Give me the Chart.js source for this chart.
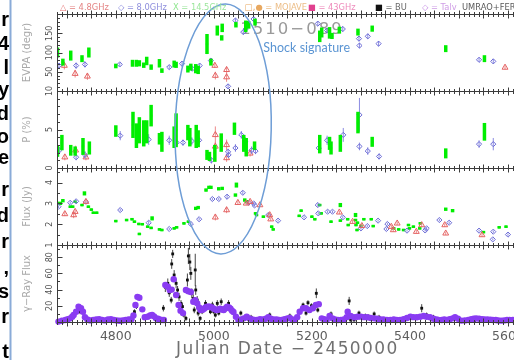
<!DOCTYPE html>
<html>
<head>
<meta charset="utf-8">
<script src="https://cdn.jsdelivr.net/npm/chart.js@4.4.1/dist/chart.umd.min.js"></script>
<style>
html, body { margin: 0; padding: 0; background: #fff; overflow: hidden; }
#wrap { position: relative; width: 514px; height: 360px; overflow: hidden; }
canvas { position: absolute; left: 0; top: 0; }
</style>
</head>
<body>
<div id="wrap"><canvas id="chart" width="562" height="360"></canvas></div>
<script>
// ---- data: [julian date - 2450000, value, error] ----
const xTickLabels = [4800, 5000, 5200, 5400, 5600];
const evpaTicks = [50, 100, 150];
const polTicks = [0, 5, 10];
const fluxTicks = [1, 2, 3, 4];
const gammaTicks = [20, 40, 60, 80];

const evpaGreen = [[4681,100,13],[4692,75,9],[4708,92,13],[4731,84,9],[4745,100,13],
  [4800,65,6],[4834,72,9],[4842,72,9],[4848,72,8],[4857,67,7],[4863,78,11],[4872,62,7],[4889,72,11],[4894,53,6],
  [4919,70,9],[4923,68,8],[4947,57,9],[4953,62,9],[4963,58,12],[4968,55,11],[4986,122,26],[4994,75,9],
  [5007,157,13],[5016,138,7],[5017,164,11],[5045,172,7],[5065,168,15],[5071,172,10],[5084,179,9],
  [5216,142,15],[5220,152,13],[5236,151,15],[5241,143,8],[5256,158,9],[5294,153,9],[5323,162,8],[5473,110,9],[5552,84,9]];
const evpaBlue = [[4684,66,5],[4719,66,8],[4737,69,8],[4808,69,4],[4909,62,5],[4935,71,5],[4956,58,5],[4971,66,6],
  [4994,79,6],[5029,12,6],[5044,183,6],[5060,153,6],[5065,161,6],[5081,187,6],[5212,175,6],[5231,157,6],[5263,161,7],
  [5296,136,7],[5297,118,7],[5314,142,7],[5336,123,7],[5541,81,6],[5570,77,6]];
const evpaRed = [[4695,66,10],[4717,45,10],[4742,38,9],[5002,66,6],[5003,40,10],[5026,55,8],[5026,36,12],[5594,61,5]];

const polGreen = [[4681,2.2,0.75],[4690,3.3,1.0],[4708,2.3,0.7],[4717,2.2,0.6],[4733,2.8,1.1],[4746,2.6,0.85],
  [4800,4.8,0.75],[4835,5.6,1.7],[4842,4.2,1.6],[4848,4.9,1.7],[4857,4.5,1.7],[4863,4.7,1.5],[4872,6.8,1.4],
  [4889,3.8,0.75],[4894,3.4,1.3],[4919,4.0,1.4],[4923,4.9,2.2],[4947,4.6,1.0],[4951,4.0,1.2],[4964,4.1,1.5],
  [4968,3.8,1.1],[4986,1.7,0.65],[4991,1.5,0.6],[5002,1.9,1.1],[5015,3.3,1.2],[5042,5.1,0.8],[5061,3.2,1.1],
  [5066,2.7,1.2],[5083,2.9,0.55],[5216,3.1,1.2],[5236,3.2,0.85],[5239,2.6,0.85],[5258,3.2,1.1],[5294,5.9,1.4],
  [5323,3.4,0.65],[5473,1.9,0.65],[5552,4.7,1.15]];
const polBlue = [[4685,2.3,0.4],[4719,1.4,0.4],[4737,1.7,0.5],[4809,4.2,0.6],[4867,3.7,0.7],[4909,3.6,0.6],
  [4924,3.3,0.5],[4937,3.3,0.4],[4955,3.5,0.5],[4970,3.6,0.5],[4995,1.0,0.4],[5029,2.1,0.4],[5030,1.7,0.4],
  [5044,2.6,0.5],[5056,4.3,0.5],[5064,3.4,0.6],[5077,2.3,0.5],[5085,2.2,0.4],[5214,2.6,0.5],[5231,3.6,0.6],
  [5264,4.3,0.9],[5297,6.9,2.2],[5297,2.8,0.5],[5314,2.2,0.5],[5337,1.5,0.4],[5541,3.1,0.5],[5570,3.1,0.8]];
const polRed = [[4696,1.4,0.4],[4718,2.3,0.6],[4739,1.4,0.4],[5003,2.8,0.6],[5003,4.3,1.1],[5026,3.0,0.7],[5026,1.3,0.5],[5074,1.9,0.4]];

const fluxGreen = [[4681,3.0,0.08],[4687,3.0,0.08],[4692,3.13,0.08],[4707,2.84,0.06],[4712,2.84,0.06],[4717,3.08,0.06],
  [4731,2.92,0.06],[4736,3.48,0.1],[4744,2.84,0.06],[4750,2.7,0.06],[4754,2.55,0.06],[4761,2.55,0.06],
  [4800,2.15,0.06],[4822,2.2,0.06],[4833,2.24,0.06],[4838,2.12,0.06],[4847,2.01,0.06],[4848,1.53,0.06],[4854,2.0,0.06],
  [4865,1.88,0.06],[4872,1.82,0.06],[4874,2.28,0.1],[4889,1.75,0.06],[4894,1.72,0.06],[4919,1.8,0.06],[4924,1.85,0.06],
  [4939,2.04,0.06],[4948,2.12,0.06],[4963,2.76,0.08],[4968,2.8,0.08],[4984,3.64,0.08],[4990,3.77,0.08],[4994,3.77,0.08],
  [5010,3.7,0.08],[5017,3.72,0.08],[5044,3.4,0.08],[5046,3.88,0.12],[5063,3.16,0.08],[5067,3.08,0.08],[5085,2.52,0.06],
  [5087,2.44,0.06],[5101,2.36,0.06],[5118,1.88,0.06],[5121,1.75,0.06],[5174,2.4,0.06],[5178,2.65,0.06],[5200,2.36,0.06],
  [5206,2.24,0.06],[5216,2.92,0.06],[5219,2.52,0.06],[5239,2.12,0.06],[5258,2.92,0.1],[5258,2.17,0.06],[5273,2.24,0.06],
  [5274,1.96,0.06],[5289,2.44,0.1],[5289,2.2,0.06],[5290,1.96,0.06],[5292,1.72,0.06],[5293,2.07,0.06],[5300,1.92,0.06],
  [5306,2.24,0.06],[5321,2.24,0.06],[5325,1.91,0.06],[5367,1.8,0.06],[5377,1.75,0.06],[5387,1.72,0.06],[5397,1.96,0.06],
  [5399,1.8,0.06],[5407,1.88,0.06],[5420,1.8,0.06],[5421,2.04,0.06],[5473,2.72,0.08],[5487,2.65,0.08],[5550,1.62,0.06],
  [5582,1.85,0.06],[5596,1.88,0.06]];
const fluxBlue = [[4683,2.84,0.06],[4707,3.03,0.06],[4719,3.1,0.06],[4739,3.08,0.06],[4809,2.68,0.06],[4867,2.07,0.08],
  [4909,1.77,0.05],[4953,2.01,0.06],[4970,2.24,0.06],[4997,3.21,0.06],[5010,3.21,0.06],[5027,3.32,0.12],[5059,3.51,0.08],
  [5071,3.03,0.06],[5081,3.0,0.06],[5083,2.9,0.06],[5111,2.44,0.06],[5131,2.17,0.05],[5184,2.33,0.05],[5212,2.92,0.08],
  [5213,2.52,0.06],[5232,2.6,0.06],[5242,2.6,0.06],[5263,2.33,0.06],[5300,1.8,0.06],[5313,1.91,0.06],[5335,2.17,0.05],
  [5352,1.77,0.06],[5354,2.01,0.06],[5394,1.69,0.05],[5431,1.7,0.05],[5434,1.8,0.06],[5460,2.2,0.06],[5480,2.07,0.06],
  [5541,1.69,0.05],[5569,1.27,0.05],[5570,1.64,0.06],[5600,1.5,0.06]];
const fluxRed = [[4696,2.49,0.1],[4714,2.44,0.15],[4717,2.6,0.1],[4739,3.08,0.1],[5003,2.33,0.15],[5026,2.68,0.15],
  [5049,3.03,0.1],[5066,3.0,0.08],[5074,3.08,0.08],[5094,2.92,0.08],[5114,2.44,0.08],[5116,2.24,0.08],[5256,2.57,0.08],
  [5283,2.12,0.08],[5302,1.92,0.08],[5362,1.88,0.08],[5366,1.72,0.08],[5374,2.04,0.08],[5413,1.64,0.08],[5424,1.96,0.08],
  [5471,1.96,0.08],[5473,1.56,0.08],[5547,1.48,0.08]];

const gammaFermi = [[4683,0.5],[4690,1.5],[4697,2.5],[4702,3.5],[4707,4.5],[4711,6.5],[4714,8.6],[4719,12.7],[4724,19],
  [4729,17],[4733,12.7],[4737,5.8],[4742,3],[4748,2],[4754,2.5],[4760,3],[4766,3.5],[4772,2.5],[4778,2],[4784,3],
  [4790,3.5],[4796,2.5],[4802,2],[4808,1.5],[4814,2],[4820,2.5],[4826,3],[4832,3.5],[4836,8],[4840,21],[4844,31],
  [4848,30],[4854,15.6],[4859,5.8],[4865,6.4],[4870,8],[4874,8.6],[4878,7],[4882,4.5],[4886,4],[4889,3.3],[4894,2.5],
  [4898,2.5],[4901,45.7],[4906,43.6],[4910,39.5],[4914,40],[4918,52.7],[4923,33.3],[4928,21],[4932,14],[4937,11],
  [4943,39.5],[4948,38],[4953,37],[4958,25],[4962,27],[4966,23],[4970,18],[4973,14.8],[4977,15],[4980,16.5],[4983,18],
  [4986,19],[4989,19],[4992,19],[4996,18],[5000,16.5],[5004,15],[5007,14.8],[5010,15.5],[5013,16.5],[5017,15.5],
  [5020,14.8],[5024,17],[5027,19],[5031,18],[5034,16.5],[5037,14],[5040,12.4],[5045,6.6],[5050,2.5],[5055,3],[5061,4.5],
  [5067,6.6],[5072,4.5],[5078,3],[5083,2.5],[5088,2.5],[5094,3.5],[5100,3],[5106,4],[5111,5.8],[5116,4],[5122,3],
  [5128,3],[5133,2.5],[5138,2.5],[5144,3.5],[5150,4.5],[5155,5],[5160,3],[5164,2.5],[5170,6],[5175,12.7],[5182,17],
  [5188,17],[5195,14.8],[5202,17],[5208,21],[5214,22],[5220,4.5],[5225,3.5],[5230,2.5],[5236,7.4],[5242,4.5],[5247,3],
  [5253,2.5],[5259,2.5],[5265,3],[5271,6],[5273,12.7],[5279,7.4],[5286,5.8],[5293,6.5],[5300,6.6],[5306,6],[5313,5.8],
  [5320,5],[5327,4.5],[5333,4],[5340,3.3],[5346,3],[5353,2.5],[5360,2.5],[5367,3],[5373,2.5],[5380,2.5],[5387,3.5],
  [5394,5],[5401,6.6],[5407,6],[5414,5.8],[5421,6.5],[5428,7.4],[5434,6.5],[5441,5.8],[5448,4],[5454,3],[5458,2.5],
  [5465,2.5],[5470,3],[5475,2.5],[5481,3.5],[5487,4.5],[5492,5.8],[5498,4],[5505,1.7],[5512,2],[5519,2.5],[5525,3.5],
  [5530,4],[5535,4.5],[5541,4],[5547,3.5],[5552,3.3],[5558,3],[5564,2.8],[5569,2.5],[5575,2.5],[5580,2],[5586,1.7],
  [5592,2],[5598,2.5],[5603,2.5],[5610,2.5]];
const gammaBU = [[4722,17,3],[4727,12.7,3],[4734,12.7,3],[4838,12.7,3],[4842,19,3],[4897,17,4],[4901,43,6],[4906,47.7,6],
  [4909,36,5],[4913,27,4],[4914,71.6,6],[4916,84,5],[4919,58,6],[4923,47.7,6],[4926,39.5,5],[4929,31,5],[4933,23,4],
  [4936,19,4],[4939,8.6,3],[4943,4.5,3],[4946,51.8,8],[4948,81.5,10],[4951,74,10],[4953,60,8],[4955,35.4,6],[4958,29,5],
  [4960,14.8,4],[4962,64.2,20],[4963,39.5,6],[4966,27,5],[4968,11,4],[4972,4.5,3],[4976,12.7,3],[4983,23,4],[4989,19,3],
  [4993,12.7,3],[4997,21,4],[5000,12.7,3],[5003,8.6,3],[5007,23,4],[5010,11,3],[5015,25,4],[5023,14.8,3],[5030,23,4],
  [5037,14.8,3],[5055,11,3],[5076,5.8,3],[5114,8.6,3],[5155,7.4,3],[5182,21,3],[5188,11,3],[5192,23.8,3],[5199,20,3],
  [5209,35.4,6],[5212,14.8,3],[5239,9.9,3],[5276,26,5],[5279,2.5,2],[5286,2.5,2],[5296,11,3],[5309,7.4,3],[5316,6.6,3],
  [5327,9.9,3],[5337,5.8,3],[5424,17,5],[5434,8.6,3],[5448,5.8,3],[5532,1.5,2],[5586,1.5,2],[5596,2.5,2]];

const legendLabels = ['\u25B3 = 4.8GHz', '\u25C7 = 8.0GHz', 'X = 14.5GHz', '\u25A1,\u25CF = MOJAVE', '\u25A0 = 43GHz', '\u25A0 = BU', '\u25C7 = Talv', 'UMRAO+FERMI'];
const sourceName = '1510\u2212089';
const noteText = 'Shock signature';
const xTitle = 'Julian Date \u2212 2450000';
const stripLetters = ['r','4','l','y','d','o','e','r','d','r',',','s','r','t'];

// ---- styles ----
const GREEN = { pointStyle: 'rect', pointRadius: 1.6, backgroundColor: '#00ee00', borderColor: '#00ee00', borderWidth: 0, errColor: '#00ee00', errWidth: 3.5 };
const BLUE = { pointStyle: 'rectRot', pointRadius: 2.6, backgroundColor: 'rgba(0,0,0,0)', borderColor: '#6c6cd6', borderWidth: 1, errColor: '#8c8ce2', errWidth: 1 };
const RED = { pointStyle: 'triangle', pointRadius: 3.4, backgroundColor: 'rgba(0,0,0,0)', borderColor: '#e46262', borderWidth: 1, errColor: '#ec8a8a', errWidth: 1 };
const BLACK = { pointStyle: 'rect', pointRadius: 2, backgroundColor: '#111', borderColor: '#111', borderWidth: 0, errColor: '#444', errWidth: 1 };
const PURPLE = { pointStyle: 'circle', pointRadius: 3.2, backgroundColor: '#8a3cf2', borderWidth: 0, clip: false };

function series(list, yAxisID, style) {
    return Object.assign({
        type: 'scatter',
        yAxisID: yAxisID,
        data: list.map(p => ({ x: p[0], y: p[1] })),
        errs: list.map(p => p[2] || 0)
    }, style);
}

function panelAxis(min, max, ticks, title) {
    return {
        type: 'linear', position: 'left', stack: 'panels', stackWeight: 1,
        min: min, max: max,
        grid: { display: false },
        border: { display: false },
        ticks: { display: false },
        afterBuildTicks: s => { s.ticks = ticks.map(v => ({ value: v })); },
        afterFit: s => { s.width = 57; },
        title: { display: true, text: title, color: '#a9a9a9',
                 font: { family: 'DejaVu Sans', size: 10 }, padding: { top: 21, bottom: 0 } }
    };
}

// error bars are drawn just before their dataset
const errorBars = {
    id: 'errorBars',
    beforeDatasetDraw(chart, args) {
        const ds = chart.data.datasets[args.index];
        if (!ds.errColor) return;
        const xs = chart.scales.x, ys = chart.scales[ds.yAxisID], a = chart.chartArea;
        const ctx = chart.ctx;
        ctx.save();
        ctx.beginPath();
        ctx.rect(a.left, ys.top, a.right - a.left, ys.bottom - ys.top);
        ctx.clip();
        ctx.strokeStyle = ds.errColor;
        ctx.lineWidth = ds.errWidth;
        ds.data.forEach((p, i) => {
            const e = ds.errs[i];
            if (!e) return;
            const px = xs.getPixelForValue(p.x);
            ctx.beginPath();
            ctx.moveTo(px, ys.getPixelForValue(p.y - e));
            ctx.lineTo(px, ys.getPixelForValue(p.y + e));
            ctx.stroke();
        });
        ctx.restore();
    }
};

const panelMinor = { yE: 10, yP: 1, yF: 0.5, yG: 10 };

// title behind the data
const background = {
    id: 'background',
    beforeDatasetsDraw(chart) {
        const ctx = chart.ctx, xs = chart.scales.x;
        ctx.save();
        ctx.font = '16.5px "DejaVu Sans"';
        ctx.letterSpacing = '2px';
        ctx.fillStyle = '#9a9a9a';
        ctx.textBaseline = 'alphabetic';
        ctx.fillText(sourceName, xs.getPixelForValue(5054), 34);
        ctx.restore();
    }
};

// panel frames, tick marks, tick labels
const frame = {
    id: 'frame',
    afterDatasetsDraw(chart) {
        const { ctx, chartArea: a, scales } = chart;
        const xs = scales.x;
        const ids = ['yE', 'yP', 'yF', 'yG'];
        const edges = ids.map(id => Math.round(scales[id].top)).concat([Math.round(scales.yG.bottom)]);
        const lx = Math.round(a.left) + 0.5;
        ctx.save();
        ctx.strokeStyle = '#3c3c3c';
        ctx.lineWidth = 1;
        ctx.beginPath();
        edges.forEach(y => { ctx.moveTo(a.left, y + 0.5); ctx.lineTo(a.right, y + 0.5); });
        ctx.moveTo(lx, a.top); ctx.lineTo(lx, a.bottom);
        for (let d = Math.ceil(xs.min / 10) * 10; d <= xs.max; d += 10) {
            const px = Math.round(xs.getPixelForValue(d)) + 0.5;
            const len = d % 50 === 0 ? 4 : 2.5;
            edges.forEach(y => { ctx.moveTo(px, y + 0.5 - len); ctx.lineTo(px, y + 0.5 + len); });
        }
        ids.forEach(id => {
            const s = scales[id];
            const step = panelMinor[id];
            for (let v = s.min + step; v < s.max - 1e-9; v += step) {
                const py = Math.round(s.getPixelForValue(v)) + 0.5;
                const major = s.ticks.some(t => Math.abs(t.value - v) < 1e-6);
                ctx.moveTo(lx, py); ctx.lineTo(lx + (major ? 5 : 2.5), py);
            }
        });
        ctx.stroke();

        ctx.fillStyle = '#505050';
        ctx.font = '8px "DejaVu Sans"';
        ctx.textAlign = 'center';
        ctx.textBaseline = 'middle';
        ids.forEach(id => {
            const s = scales[id];
            s.ticks.forEach(t => {
                ctx.save();
                ctx.translate(a.left - 7, s.getPixelForValue(t.value));
                ctx.rotate(-Math.PI / 2);
                ctx.fillText(String(t.value), 0, 0);
                ctx.restore();
            });
        });

        // x axis title
        ctx.fillStyle = '#707070';
        ctx.font = '17px "DejaVu Sans"';
        ctx.letterSpacing = '1.4px';
        ctx.textAlign = 'center';
        ctx.textBaseline = 'alphabetic';
        ctx.fillText(xTitle, xs.getPixelForValue(5150), 354);
        ctx.restore();
    }
};

// annotations: ellipse, note, legend row, slide strip on the left
const overlay = {
    id: 'overlay',
    afterDraw(chart) {
        const { ctx, scales } = chart;
        const xs = scales.x;
        ctx.save();
        const x0 = xs.getPixelForValue(4921), x1 = xs.getPixelForValue(5117);
        const y0 = scales.yE.getPixelForValue(226), y1 = scales.yG.getPixelForValue(84);
        ctx.strokeStyle = '#6e9dd6';
        ctx.lineWidth = 1.5;
        ctx.beginPath();
        ctx.ellipse((x0 + x1) / 2, (y0 + y1) / 2, (x1 - x0) / 2, (y1 - y0) / 2, 0.02, 0, Math.PI * 2);
        ctx.stroke();

        ctx.fillStyle = '#5b95d3';
        ctx.font = '12.5px Lato';
        ctx.textBaseline = 'middle';
        ctx.fillText(noteText, xs.getPixelForValue(5101), 48);

        // legend
        const legendX = [60, 118, 173, 245, 308, 375, 422, 462];
        const legendColors = ['#e48484', '#8e8edc', '#9ce69c', '#ecbd86', '#ee8cbc', '#6a6a6a', '#cf9de6', '#5a5a5a'];
        const symColors = ['#e46a6a', '#7a7ad8', '#8ee68e', '#e8a860', '#e0408e', '#111', '#c084e2', '#5a5a5a'];
        ctx.font = '8.3px "DejaVu Sans"';
        ctx.letterSpacing = '0px';
        ctx.textBaseline = 'middle';
        legendLabels.forEach((t, i) => {
            const eq = t.indexOf(' = ');
            let x = legendX[i];
            if (eq > 0) {
                const sym = t.slice(0, eq);
                ctx.fillStyle = symColors[i];
                ctx.fillText(sym, x, 8);
                x += ctx.measureText(sym).width;
                ctx.fillStyle = legendColors[i];
                ctx.fillText(t.slice(eq), x, 8);
            } else {
                ctx.fillStyle = legendColors[i];
                ctx.fillText(t, x, 8);
            }
        });

        // left strip from the slide
        ctx.fillStyle = '#fff';
        ctx.fillRect(0, 0, 12, 360);
        ctx.strokeStyle = '#8aabd8';
        ctx.lineWidth = 2;
        ctx.beginPath();
        ctx.moveTo(10.5, 0); ctx.lineTo(10.5, 360);
        ctx.stroke();
        const stripY = [20, 44, 68, 90, 114, 137, 158, 190, 216, 242, 268, 292, 317, 352];
        ctx.fillStyle = '#000';
        ctx.font = 'bold 20px "Liberation Sans"';
        ctx.textAlign = 'right';
        ctx.textBaseline = 'middle';
        stripLetters.forEach((c, i) => ctx.fillText(c, 9, stripY[i]));
        ctx.restore();
    }
};

new Chart(document.getElementById('chart'), {
    type: 'scatter',
    data: {
        datasets: [
            series(evpaGreen, 'yE', GREEN), series(evpaBlue, 'yE', BLUE), series(evpaRed, 'yE', RED),
            series(polGreen, 'yP', GREEN), series(polBlue, 'yP', BLUE), series(polRed, 'yP', RED),
            series(fluxRed, 'yF', RED), series(fluxBlue, 'yF', BLUE), series(fluxGreen, 'yF', GREEN),
            series(gammaFermi, 'yG', PURPLE), series(gammaBU, 'yG', BLACK)
        ]
    },
    options: {
        responsive: false,
        animation: false,
        devicePixelRatio: 1,
        events: [],
        layout: { padding: { left: 0, right: 0, top: 14, bottom: 0 } },
        plugins: { legend: { display: false }, tooltip: { enabled: false } },
        scales: {
            x: {
                type: 'linear', min: 4680, max: 5700,
                grid: { display: false },
                border: { display: false },
                afterBuildTicks: s => { s.ticks = xTickLabels.map(v => ({ value: v })); },
                afterFit: s => { s.height = 38; },
                ticks: { color: '#5e5e5e', font: { family: 'DejaVu Sans', size: 12.5 }, padding: -1,
                         maxRotation: 0, autoSkip: false, callback: v => String(v) }
            },
            yG: panelAxis(0, 95, gammaTicks, '\u03B3\u2212Ray Flux'),
            yF: panelAxis(1, 4.7, fluxTicks, 'Flux (Jy)'),
            yP: panelAxis(0, 10, polTicks, 'P (%)'),
            yE: panelAxis(0, 200, evpaTicks, 'EVPA (degr)')
        }
    },
    plugins: [errorBars, background, frame, overlay]
});
</script>
</body>
</html>
